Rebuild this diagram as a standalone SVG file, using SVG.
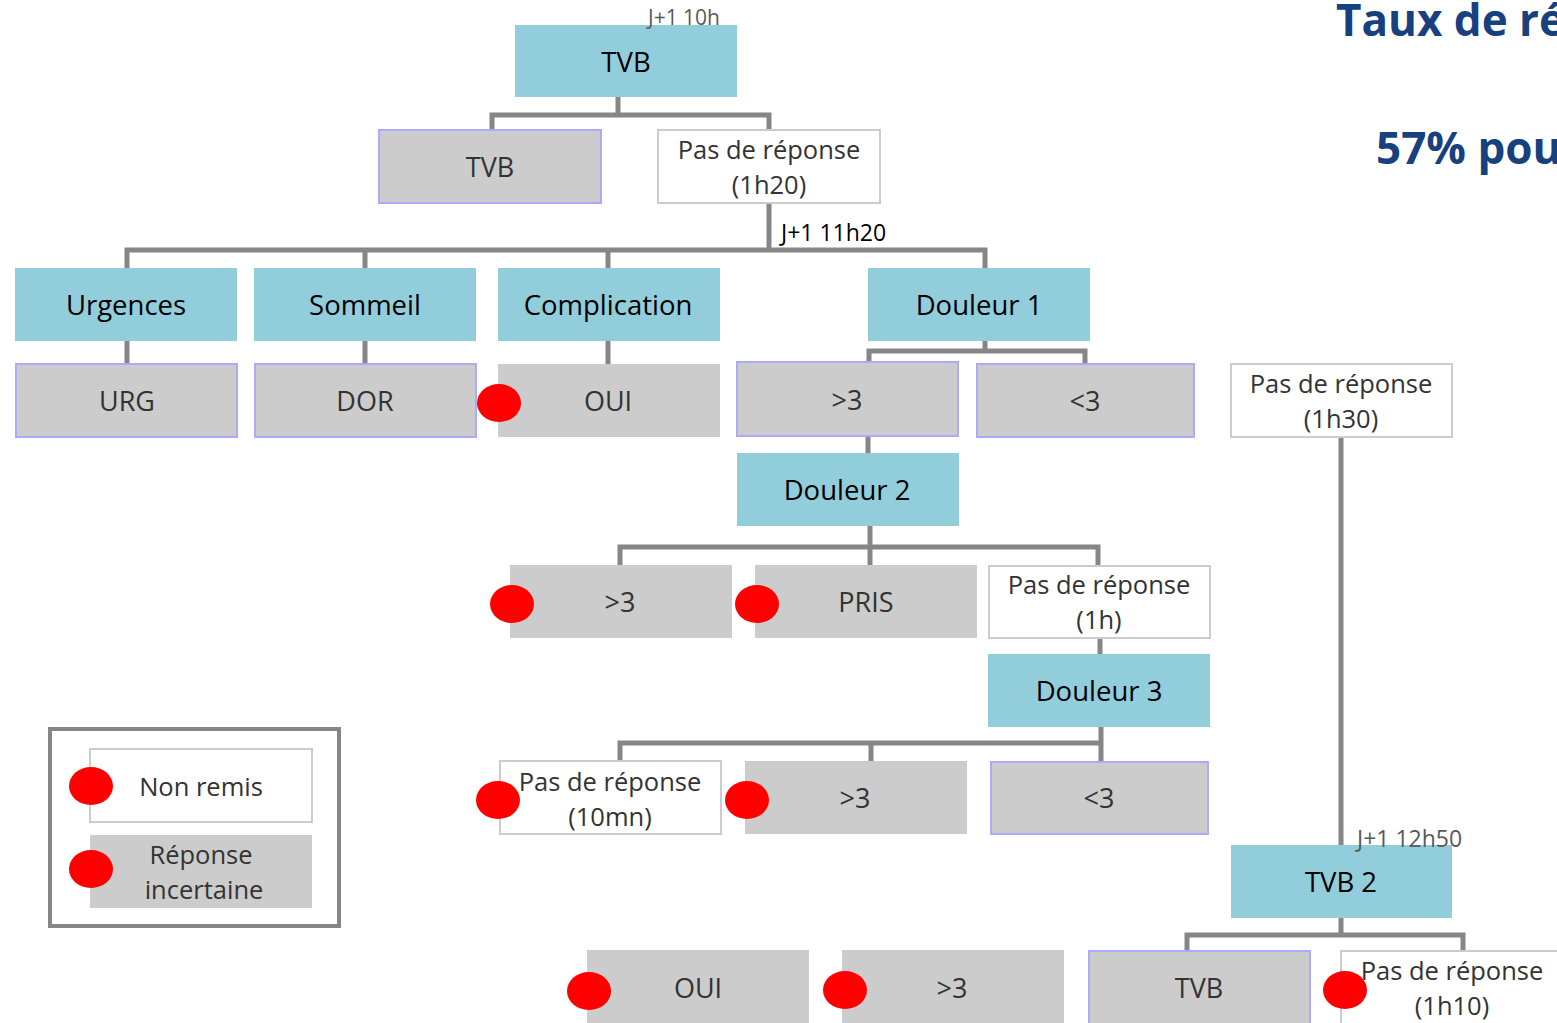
<svg xmlns="http://www.w3.org/2000/svg" width="1557" height="1023" viewBox="0 0 1557 1023">
<style>
.blue{fill:#92CDDC}
.gray{fill:#CCCCCC}
.grayb{fill:#CCCCCC;stroke:#AAAAFF;stroke-width:2}
.white{fill:#FFFFFF;stroke:#CCCCCC;stroke-width:2}
.t{font-family:"Open Sans","Liberation Sans",sans-serif;font-size:27px;text-anchor:middle;fill:#333333}
.tw{font-family:"Open Sans","Liberation Sans",sans-serif;font-size:25.5px;text-anchor:middle;fill:#333333}
.tb{font-family:"Open Sans","Liberation Sans",sans-serif;font-size:27.5px;text-anchor:middle;fill:#000000}
.small{font-family:"Open Sans","Liberation Sans",sans-serif;font-size:23px;fill:#595959}
.conn{fill:none;stroke:#868686;stroke-width:5}
.dot{fill:#FF0000}
.title{font-family:"Open Sans","Liberation Sans",sans-serif;font-size:44px;font-weight:bold;fill:#17407E}
</style>
<g id="connectors">
<path class="conn" d="M618 97V115M492 130V115H769V130"/>
<path class="conn" d="M769 203V250M127 268V250H985V268M365 250V268M608 250V268"/>
<path class="conn" d="M127 341V364M365 341V364M608 341V364"/>
<path class="conn" d="M985 341V351M869 363V351H1085V364"/>
<path class="conn" d="M868 436V453"/>
<path class="conn" d="M870 526V547M620 565V547H1098V565M870 547V565"/>
<path class="conn" d="M1100 638V654"/>
<path class="conn" d="M1101 727V743M620 761V743H1101V761M871 743V761"/>
<path class="conn" d="M1341 437V845"/>
<path class="conn" d="M1341 918V935M1187 950V935H1463V950"/>
</g>
<g id="title">
<text class="title" x="1336" y="36">Taux de ré</text>
<text class="title" x="1376" y="164">57% pou</text>
</g>
<g id="tvb-root"><rect class="blue" x="515" y="25" width="222" height="72"/><text class="tb" x="626" y="72">TVB</text></g>
<text id="lbl-10h" class="small" x="648" y="25" style="font-size:21px">J+1 10h</text>
<g id="tvb-1"><rect class="grayb" x="379" y="130" width="222" height="73"/><text class="t" x="490" y="177">TVB</text></g>
<g id="pdr-1h20"><rect class="white" x="658" y="130" width="222" height="73"/><text class="tw" x="769" y="159">Pas de réponse</text><text class="tw" x="769" y="194">(1h20)</text></g>
<text id="lbl-11h20" class="small" x="781" y="241" style="fill:#000">J+1 11h20</text>
<g id="urgences"><rect class="blue" x="15" y="268" width="222" height="73"/><text class="tb" x="126" y="315">Urgences</text></g>
<g id="sommeil"><rect class="blue" x="254" y="268" width="222" height="73"/><text class="tb" x="365" y="315">Sommeil</text></g>
<g id="complication"><rect class="blue" x="498" y="268" width="222" height="73"/><text class="tb" x="608" y="315">Complication</text></g>
<g id="douleur1"><rect class="blue" x="868" y="268" width="222" height="73"/><text class="tb" x="979" y="315">Douleur 1</text></g>
<g id="urg"><rect class="grayb" x="16" y="364" width="221" height="73"/><text class="t" x="127" y="411">URG</text></g>
<g id="dor"><rect class="grayb" x="255" y="364" width="221" height="73"/><text class="t" x="365" y="411">DOR</text></g>
<g id="oui-1"><rect class="gray" x="498" y="364" width="222" height="73"/><text class="t" x="608" y="411">OUI</text><ellipse class="dot" cx="499" cy="403" rx="22" ry="19"/></g>
<g id="d1-sup3"><rect class="grayb" x="737" y="362" width="221" height="74"/><text class="t" x="847" y="410">&gt;3</text></g>
<g id="d1-inf3"><rect class="grayb" x="977" y="364" width="217" height="73"/><text class="t" x="1085" y="411">&lt;3</text></g>
<g id="pdr-1h30"><rect class="white" x="1231" y="364" width="221" height="73"/><text class="tw" x="1341" y="393">Pas de réponse</text><text class="tw" x="1341" y="428">(1h30)</text></g>
<g id="douleur2"><rect class="blue" x="737" y="453" width="222" height="73"/><text class="tb" x="847" y="500">Douleur 2</text></g>
<g id="d2-sup3"><rect class="gray" x="510" y="565" width="222" height="73"/><text class="t" x="620" y="612">&gt;3</text><ellipse class="dot" cx="512" cy="604" rx="22" ry="19"/></g>
<g id="pris"><rect class="gray" x="755" y="565" width="222" height="73"/><text class="t" x="866" y="612">PRIS</text><ellipse class="dot" cx="757" cy="604" rx="22" ry="19"/></g>
<g id="pdr-1h"><rect class="white" x="989" y="566" width="221" height="72"/><text class="tw" x="1099" y="594">Pas de réponse</text><text class="tw" x="1099" y="629">(1h)</text></g>
<g id="douleur3"><rect class="blue" x="988" y="654" width="222" height="73"/><text class="tb" x="1099" y="701">Douleur 3</text></g>
<g id="pdr-10mn"><rect class="white" x="500" y="761" width="221" height="73"/><text class="tw" x="610" y="791">Pas de réponse</text><text class="tw" x="610" y="826">(10mn)</text><ellipse class="dot" cx="498" cy="800" rx="22" ry="19"/></g>
<g id="d3-sup3"><rect class="gray" x="745" y="761" width="222" height="73"/><text class="t" x="855" y="808">&gt;3</text><ellipse class="dot" cx="747" cy="800" rx="22" ry="19"/></g>
<g id="d3-inf3"><rect class="grayb" x="991" y="762" width="217" height="72"/><text class="t" x="1099" y="808">&lt;3</text></g>
<g id="tvb2"><rect class="blue" x="1231" y="845" width="221" height="73"/><text class="tb" x="1341" y="892">TVB 2</text></g>
<text id="lbl-12h50" class="small" x="1357" y="847">J+1 12h50</text>
<g id="oui-2"><rect class="gray" x="587" y="950" width="222" height="73"/><text class="t" x="698" y="998">OUI</text><ellipse class="dot" cx="589" cy="991" rx="22" ry="19"/></g>
<g id="b-sup3"><rect class="gray" x="842" y="950" width="222" height="73"/><text class="t" x="952" y="998">&gt;3</text><ellipse class="dot" cx="845" cy="990" rx="22" ry="19"/></g>
<g id="tvb-2"><rect class="grayb" x="1089" y="951" width="221" height="74"/><text class="t" x="1199" y="998">TVB</text></g>
<g id="pdr-1h10"><rect class="white" x="1341" y="951" width="230" height="74"/><text class="tw" x="1452" y="980">Pas de réponse</text><text class="tw" x="1452" y="1015">(1h10)</text><ellipse class="dot" cx="1345" cy="990" rx="22" ry="19"/></g>
<g id="legend">
<rect x="50" y="729" width="289" height="197" fill="none" stroke="#868686" stroke-width="4"/>
<rect class="white" x="90" y="749" width="222" height="73"/><text class="tw" x="201" y="796">Non remis</text><ellipse class="dot" cx="91" cy="786" rx="22" ry="19"/>
<rect class="gray" x="90" y="835" width="222" height="73"/><text class="tw" x="201" y="864">Réponse</text><text class="tw" x="204" y="899">incertaine</text><ellipse class="dot" cx="91" cy="869" rx="22" ry="19"/>
</g>
</svg>
